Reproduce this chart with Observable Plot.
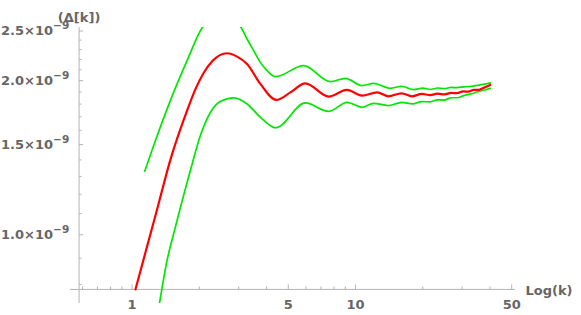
<!DOCTYPE html>
<html><head><meta charset="utf-8">
<script src="https://cdn.jsdelivr.net/npm/d3@7"></script>
<script src="https://cdn.jsdelivr.net/npm/@observablehq/plot@0.6"></script>
<style>body{margin:0;background:#fff;}</style>
</head><body><div id="chart"></div>
<script>
// values of Δ[k] in units of 1e-9
const UNIT = 1e-9;
const kRed = [1.035, 1.29, 1.48, 1.762, 1.919, 2.09, 2.288, 2.66, 2.95, 3.27, 3.75, 4.42, 5.11, 5.96, 7.58, 9.16, 10.7, 12.5, 14.0, 16.1, 17.9, 19.8, 21.6, 23.3, 25.0, 26.8, 28.5, 30.3, 32.0, 33.8, 35.5, 37.3, 40.1];
const dRed = [0.782, 1.115, 1.396, 1.748, 1.923, 2.070, 2.184, 2.262, 2.228, 2.156, 1.971, 1.834, 1.897, 1.976, 1.862, 1.919, 1.870, 1.897, 1.864, 1.889, 1.864, 1.884, 1.874, 1.886, 1.880, 1.893, 1.890, 1.905, 1.903, 1.918, 1.918, 1.935, 1.962];

const kUpper = [1.139, 1.249, 1.483, 1.762, 2.056, 2.264, 2.51, 2.78, 3.075, 3.27, 3.50, 3.75, 4.02, 4.39, 5.86, 7.71, 9.0, 10.7, 12.05, 14.3, 16.1, 18.2, 20.0, 21.6, 23.3, 25.0, 26.8, 28.5, 30.4, 33.0, 35.0, 37.3, 40.1];
const dUpper = [1.331, 1.494, 1.828, 2.188, 2.534, 2.654, 2.789, 2.654, 2.54, 2.412, 2.289, 2.171, 2.092, 2.036, 2.140, 1.991, 2.021, 1.956, 1.976, 1.932, 1.950, 1.921, 1.934, 1.922, 1.935, 1.930, 1.940, 1.938, 1.945, 1.950, 1.958, 1.967, 1.980];

const kLower = [1.325, 1.434, 1.562, 1.823, 2.021, 2.24, 2.48, 2.85, 3.27, 3.75, 4.39, 5.96, 7.58, 9.16, 10.7, 12.05, 14.0, 16.1, 18.0, 19.8, 21.6, 23.3, 25.0, 26.8, 28.5, 30.3, 32.6, 35.0, 37.3, 40.1];
const dLower = [0.733, 0.891, 1.035, 1.335, 1.562, 1.733, 1.820, 1.851, 1.801, 1.696, 1.617, 1.809, 1.742, 1.814, 1.774, 1.806, 1.788, 1.814, 1.801, 1.820, 1.818, 1.835, 1.833, 1.852, 1.852, 1.868, 1.882, 1.900, 1.915, 1.932];

const xMajor = [1, 5, 10, 50];
const xMajorLabels = ["1", "5", "10", "50"];
const xMinor = [0.6, 0.7, 0.8, 0.9, 2, 3, 4, 6, 7, 8, 9, 20, 30, 40];
const yMajor = [1.0, 1.5, 2.0, 2.5];
const yMajorLabels = ["1.0×10", "1.5×10", "2.0×10", "2.5×10"];
const yExponent = "−9";
const yMinor = [0.8, 0.9, 1.1, 1.2, 1.3, 1.4, 1.6, 1.7, 1.8, 1.9, 2.1, 2.2, 2.3, 2.4];
const xDomain = [0.53, 52];
const yDomain = [0.734, 2.54];
const xAxisCross = 0.782;  // y value of the horizontal axis
const yAxisCross = 0.579;  // x value of the vertical axis
const xTitle = "Log(k)";
const yTitle = "(Δ[k])";

const rows = (ks, ds) => ks.map((k, i) => ({k, d: ds[i] * UNIT}));
const red = rows(kRed, dRed), upper = rows(kUpper, dUpper), lower = rows(kLower, dLower);

const axisColor = "#b4b4b4";
const textColor = "#666666";
const font = {fontFamily: "DejaVu Sans", fontWeight: "bold", fill: textColor};
const tickRight = len => ({draw(c) { c.moveTo(0, 0); c.lineTo(len, 0); }});
const tickUp = len => ({draw(c) { c.moveTo(0, 0); c.lineTo(0, -len); }});

const chart = Plot.plot({
  width: 581, height: 315,
  marginLeft: 70, marginRight: 66, marginTop: 27, marginBottom: 12,
  style: {background: "#fff", overflow: "visible"},
  x: {type: "log", domain: xDomain, axis: null},
  y: {type: "log", domain: yDomain.map(v => v * UNIT), axis: null},
  marks: [
    Plot.ruleY([xAxisCross * UNIT], {stroke: axisColor, strokeWidth: 1}),
    Plot.ruleX([yAxisCross], {stroke: axisColor, strokeWidth: 1}),
    Plot.dot(xMajor, {x: d => d, y: () => xAxisCross * UNIT, symbol: tickUp(5), stroke: axisColor, fill: "none", strokeWidth: 1}),
    Plot.dot(xMinor, {x: d => d, y: () => xAxisCross * UNIT, symbol: tickUp(3), stroke: axisColor, fill: "none", strokeWidth: 1}),
    Plot.dot(yMajor, {x: () => yAxisCross, y: d => d * UNIT, symbol: tickRight(4), stroke: axisColor, fill: "none", strokeWidth: 1}),
    Plot.dot(yMinor, {x: () => yAxisCross, y: d => d * UNIT, symbol: tickRight(2.5), stroke: axisColor, fill: "none", strokeWidth: 1}),
    Plot.text(xMajor, {x: d => d, y: () => xAxisCross * UNIT, text: (d, i) => xMajorLabels[i], dy: 15, fontSize: 13, ...font}),
    Plot.text(yMajor, {x: () => yAxisCross, y: d => d * UNIT, text: (d, i) => yMajorLabels[i], textAnchor: "end", dx: -26, fontSize: 13, ...font}),
    Plot.text(yMajor, {x: () => yAxisCross, y: d => d * UNIT, text: () => yExponent, textAnchor: "start", dx: -26, dy: -5, fontSize: 10.5, ...font}),
    Plot.text([yTitle], {x: () => yAxisCross, frameAnchor: "top", text: d => d, dy: -15, fontSize: 13, ...font}),
    Plot.text([xTitle], {y: () => xAxisCross * UNIT, frameAnchor: "right", text: d => d, textAnchor: "start", dx: 10, dy: 1, fontSize: 13, ...font}),
    Plot.line(upper, {x: "k", y: "d", stroke: "#00e800", strokeWidth: 1.7, curve: "monotone-x", clip: true}),
    Plot.line(lower, {x: "k", y: "d", stroke: "#00e800", strokeWidth: 1.7, curve: "monotone-x", clip: true}),
    Plot.line(red, {x: "k", y: "d", stroke: "#ff0000", strokeWidth: 2.2, curve: "monotone-x", clip: true})
  ]
});
document.getElementById("chart").appendChild(chart);
</script>
</body></html>
